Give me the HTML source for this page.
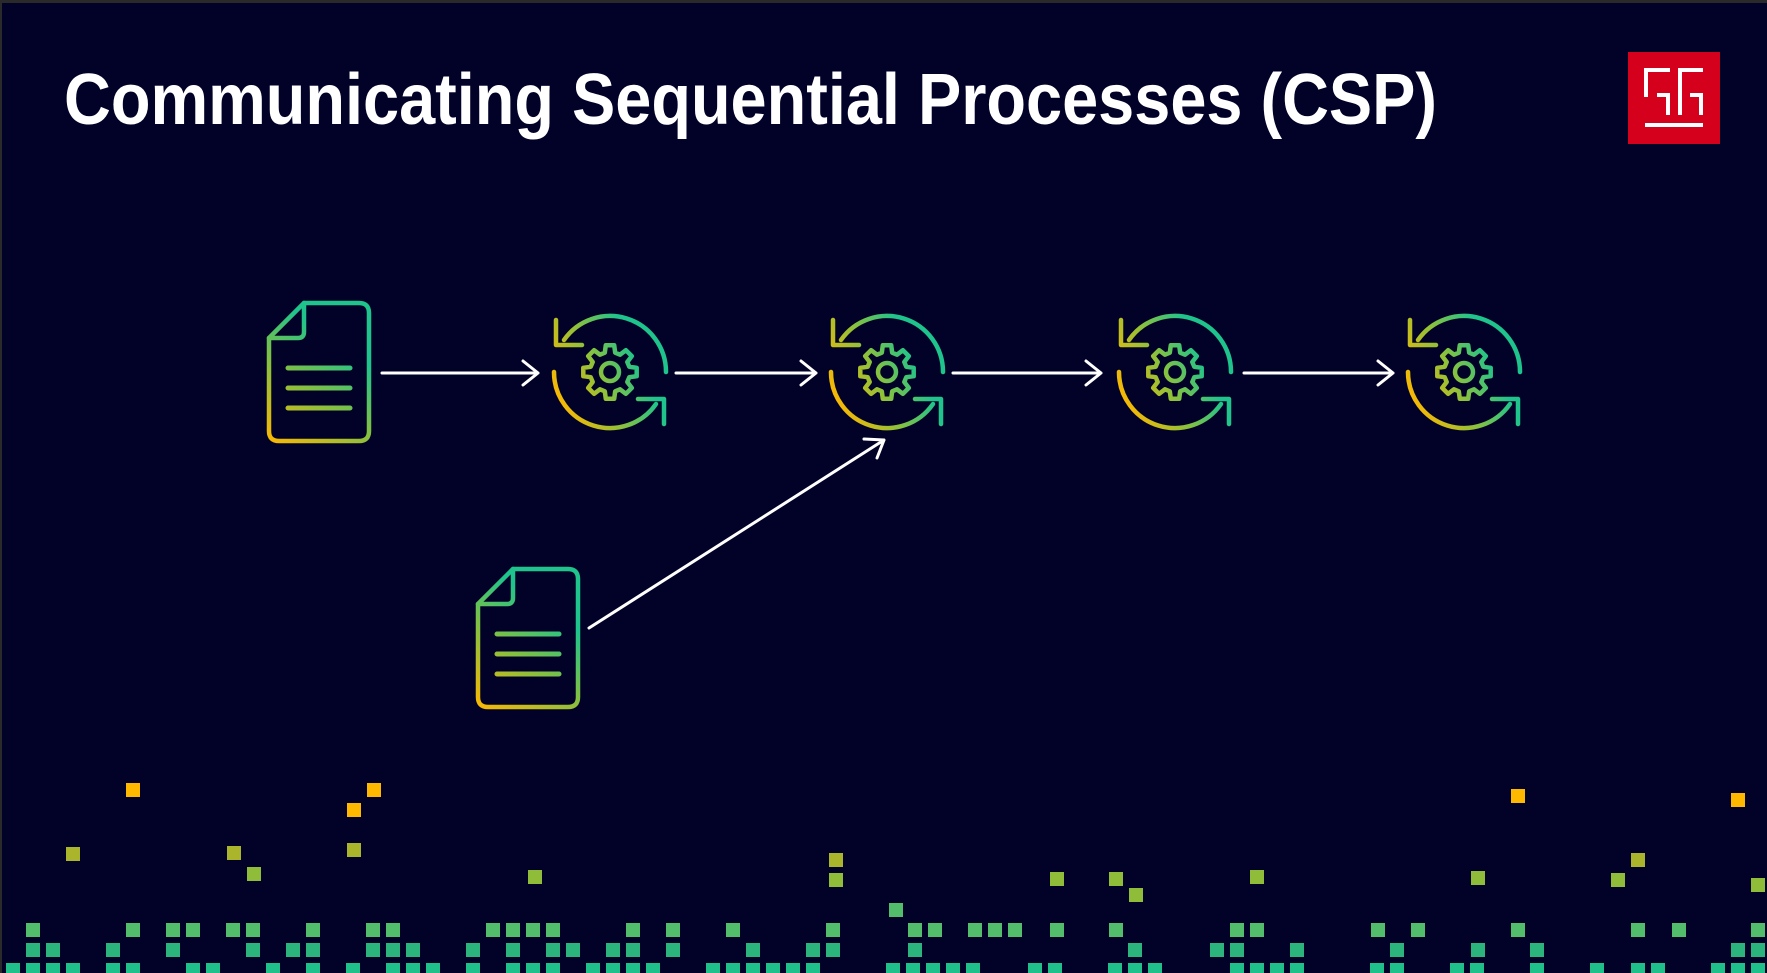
<!DOCTYPE html>
<html><head><meta charset="utf-8"><style>
html,body{margin:0;padding:0;background:#020228;}
svg{display:block}
</style></head><body>
<svg width="1767" height="973" viewBox="0 0 1767 973" xmlns="http://www.w3.org/2000/svg">
<defs>
<linearGradient id="gi" gradientUnits="userSpaceOnUse" x1="-56" y1="25" x2="56" y2="-25">
<stop offset="0" stop-color="#ffb800"/><stop offset="0.4" stop-color="#8fc13a"/><stop offset="0.75" stop-color="#1ec48c"/><stop offset="1" stop-color="#1ec48c"/>
</linearGradient>
<linearGradient id="gd" gradientUnits="userSpaceOnUse" x1="0" y1="142" x2="104" y2="0">
<stop offset="0" stop-color="#ffb800"/><stop offset="0.4" stop-color="#7fc044"/><stop offset="0.7" stop-color="#1ec48c"/><stop offset="1" stop-color="#1ec48c"/>
</linearGradient>
<g id="cyc" fill="none" stroke="url(#gi)" stroke-width="4.5" stroke-linecap="round" stroke-linejoin="round">
<path d="M56,0 A56 56 0 0 0 -46,-32"/>
<path d="M-54,-52 L-54,-27 L-28,-27"/>
<path d="M-56,0 A56 56 0 0 0 46,32"/>
<path d="M54,52 L54,27 L28,27"/>
<path d="M19.3,-5.2 L26.7,-4.2 L26.7,4.2 L19.3,5.2 L17.3,10 L21.8,15.9 L15.9,21.8 L10,17.3 L5.2,19.3 L4.2,26.7 L-4.2,26.7 L-5.2,19.3 L-10,17.3 L-15.9,21.8 L-21.8,15.9 L-17.3,10 L-19.3,5.2 L-26.7,4.2 L-26.7,-4.2 L-19.3,-5.2 L-17.3,-10 L-21.8,-15.9 L-15.9,-21.8 L-10,-17.3 L-5.2,-19.3 L-4.2,-26.7 L4.2,-26.7 L5.2,-19.3 L10,-17.3 L15.9,-21.8 L21.8,-15.9 L17.3,-10 Z"/>
<circle cx="0" cy="0" r="9"/>
</g>
<g id="doc" fill="none" stroke="url(#gd)" stroke-width="4.5" stroke-linecap="round" stroke-linejoin="round">
<path d="M37,2 H92 Q102,2 102,12 V130 Q102,140 92,140 H12 Q2,140 2,130 V37 Z"/>
<path d="M37,2 V31 Q37,37 31,37 H2"/>
<path d="M21,67 H83 M21,87 H83 M21,107 H83" stroke-width="5"/>
</g>
</defs>

<rect x="0" y="0" width="1767" height="973" fill="#020228"/>
<rect x="0" y="0" width="1767" height="3" fill="#2a2a2a"/>
<rect x="0" y="0" width="2" height="973" fill="#2a2a2a"/>

<text x="64" y="124" font-family="Liberation Sans, sans-serif" font-weight="bold" font-size="72" fill="#ffffff" textLength="1373" lengthAdjust="spacingAndGlyphs">Communicating Sequential Processes (CSP)</text>

<rect x="1628" y="52" width="92" height="92" fill="#d4001c"/>
<g fill="none" stroke="#fff" stroke-width="4">
<path d="M1646,97 V70 H1670"/>
<path d="M1657,95 H1668 V115"/>
<path d="M1680,115 V70 H1703"/>
<path d="M1690,95 H1701 V115"/>
<path d="M1645,125 H1703"/>
</g>

<use href="#doc" x="267" y="301"/>
<use href="#doc" x="476" y="567"/>
<use href="#cyc" transform="translate(610,372)"/>
<use href="#cyc" transform="translate(887,372)"/>
<use href="#cyc" transform="translate(1175,372)"/>
<use href="#cyc" transform="translate(1464,372)"/>

<g fill="none" stroke="#fff" stroke-width="3" stroke-linecap="round" stroke-linejoin="round">
<path d="M382,373 H538 M523,361 L538,373 L523,385"/>
<path d="M676,373 H816 M801,361 L816,373 L801,385"/>
<path d="M953,373 H1101 M1086,361 L1101,373 L1086,385"/>
<path d="M1244,373 H1393 M1378,361 L1393,373 L1378,385"/>
<path d="M589,628 L884,440 M864,439 L884,440 L877,458"/>
</g>

<g>
<g fill="#20c08a">
<rect x="6" y="963" width="14" height="14"/><rect x="26" y="963" width="14" height="14"/><rect x="46" y="963" width="14" height="14"/><rect x="66" y="963" width="14" height="14"/><rect x="106" y="963" width="14" height="14"/><rect x="126" y="963" width="14" height="14"/><rect x="186" y="963" width="14" height="14"/><rect x="206" y="963" width="14" height="14"/><rect x="266" y="963" width="14" height="14"/><rect x="306" y="963" width="14" height="14"/><rect x="346" y="963" width="14" height="14"/><rect x="386" y="963" width="14" height="14"/><rect x="406" y="963" width="14" height="14"/><rect x="426" y="963" width="14" height="14"/><rect x="466" y="963" width="14" height="14"/><rect x="506" y="963" width="14" height="14"/><rect x="526" y="963" width="14" height="14"/><rect x="546" y="963" width="14" height="14"/><rect x="586" y="963" width="14" height="14"/><rect x="606" y="963" width="14" height="14"/><rect x="626" y="963" width="14" height="14"/><rect x="646" y="963" width="14" height="14"/><rect x="706" y="963" width="14" height="14"/><rect x="726" y="963" width="14" height="14"/><rect x="746" y="963" width="14" height="14"/><rect x="766" y="963" width="14" height="14"/><rect x="786" y="963" width="14" height="14"/><rect x="806" y="963" width="14" height="14"/><rect x="886" y="963" width="14" height="14"/><rect x="906" y="963" width="14" height="14"/><rect x="926" y="963" width="14" height="14"/><rect x="946" y="963" width="14" height="14"/><rect x="966" y="963" width="14" height="14"/><rect x="1028" y="963" width="14" height="14"/><rect x="1048" y="963" width="14" height="14"/><rect x="1108" y="963" width="14" height="14"/><rect x="1128" y="963" width="14" height="14"/><rect x="1148" y="963" width="14" height="14"/><rect x="1230" y="963" width="14" height="14"/><rect x="1250" y="963" width="14" height="14"/><rect x="1270" y="963" width="14" height="14"/><rect x="1290" y="963" width="14" height="14"/><rect x="1370" y="963" width="14" height="14"/><rect x="1390" y="963" width="14" height="14"/><rect x="1450" y="963" width="14" height="14"/><rect x="1470" y="963" width="14" height="14"/><rect x="1530" y="963" width="14" height="14"/><rect x="1590" y="963" width="14" height="14"/><rect x="1631" y="963" width="14" height="14"/><rect x="1651" y="963" width="14" height="14"/><rect x="1711" y="963" width="14" height="14"/><rect x="1731" y="963" width="14" height="14"/><rect x="1751" y="963" width="14" height="14"/>
</g>
<g fill="#2bb57c">
<rect x="26" y="943" width="14" height="14"/><rect x="46" y="943" width="14" height="14"/><rect x="106" y="943" width="14" height="14"/><rect x="166" y="943" width="14" height="14"/><rect x="246" y="943" width="14" height="14"/><rect x="286" y="943" width="14" height="14"/><rect x="306" y="943" width="14" height="14"/><rect x="366" y="943" width="14" height="14"/><rect x="386" y="943" width="14" height="14"/><rect x="406" y="943" width="14" height="14"/><rect x="466" y="943" width="14" height="14"/><rect x="506" y="943" width="14" height="14"/><rect x="546" y="943" width="14" height="14"/><rect x="566" y="943" width="14" height="14"/><rect x="606" y="943" width="14" height="14"/><rect x="626" y="943" width="14" height="14"/><rect x="666" y="943" width="14" height="14"/><rect x="746" y="943" width="14" height="14"/><rect x="806" y="943" width="14" height="14"/><rect x="826" y="943" width="14" height="14"/><rect x="908" y="943" width="14" height="14"/><rect x="1128" y="943" width="14" height="14"/><rect x="1210" y="943" width="14" height="14"/><rect x="1230" y="943" width="14" height="14"/><rect x="1290" y="943" width="14" height="14"/><rect x="1390" y="943" width="14" height="14"/><rect x="1471" y="943" width="14" height="14"/><rect x="1530" y="943" width="14" height="14"/><rect x="1731" y="943" width="14" height="14"/><rect x="1751" y="943" width="14" height="14"/>
</g>
<g fill="#52bd6a">
<rect x="26" y="923" width="14" height="14"/><rect x="126" y="923" width="14" height="14"/><rect x="166" y="923" width="14" height="14"/><rect x="186" y="923" width="14" height="14"/><rect x="226" y="923" width="14" height="14"/><rect x="246" y="923" width="14" height="14"/><rect x="306" y="923" width="14" height="14"/><rect x="366" y="923" width="14" height="14"/><rect x="386" y="923" width="14" height="14"/><rect x="486" y="923" width="14" height="14"/><rect x="506" y="923" width="14" height="14"/><rect x="526" y="923" width="14" height="14"/><rect x="546" y="923" width="14" height="14"/><rect x="626" y="923" width="14" height="14"/><rect x="666" y="923" width="14" height="14"/><rect x="726" y="923" width="14" height="14"/><rect x="826" y="923" width="14" height="14"/><rect x="908" y="923" width="14" height="14"/><rect x="928" y="923" width="14" height="14"/><rect x="968" y="923" width="14" height="14"/><rect x="988" y="923" width="14" height="14"/><rect x="1008" y="923" width="14" height="14"/><rect x="1050" y="923" width="14" height="14"/><rect x="1109" y="923" width="14" height="14"/><rect x="1230" y="923" width="14" height="14"/><rect x="1250" y="923" width="14" height="14"/><rect x="1371" y="923" width="14" height="14"/><rect x="1411" y="923" width="14" height="14"/><rect x="1511" y="923" width="14" height="14"/><rect x="1631" y="923" width="14" height="14"/><rect x="1672" y="923" width="14" height="14"/><rect x="1751" y="923" width="14" height="14"/>
<rect x="889" y="903" width="14" height="14"/>
</g>
<g fill="#8fbd3a">
<rect x="247" y="867" width="14" height="14"/><rect x="528" y="870" width="14" height="14"/><rect x="829" y="873" width="14" height="14"/><rect x="1050" y="872" width="14" height="14"/><rect x="1109" y="872" width="14" height="14"/><rect x="1129" y="888" width="14" height="14"/><rect x="1250" y="870" width="14" height="14"/><rect x="1471" y="871" width="14" height="14"/><rect x="1611" y="873" width="14" height="14"/><rect x="1751" y="878" width="14" height="14"/>
</g>
<g fill="#aab52c">
<rect x="66" y="847" width="14" height="14"/><rect x="227" y="846" width="14" height="14"/><rect x="347" y="843" width="14" height="14"/><rect x="829" y="853" width="14" height="14"/><rect x="1631" y="853" width="14" height="14"/>
</g>
<g fill="#ffb800">
<rect x="126" y="783" width="14" height="14"/><rect x="367" y="783" width="14" height="14"/><rect x="347" y="803" width="14" height="14"/><rect x="1511" y="789" width="14" height="14"/><rect x="1731" y="793" width="14" height="14"/>
</g>
</g>
</svg>
</body></html>
